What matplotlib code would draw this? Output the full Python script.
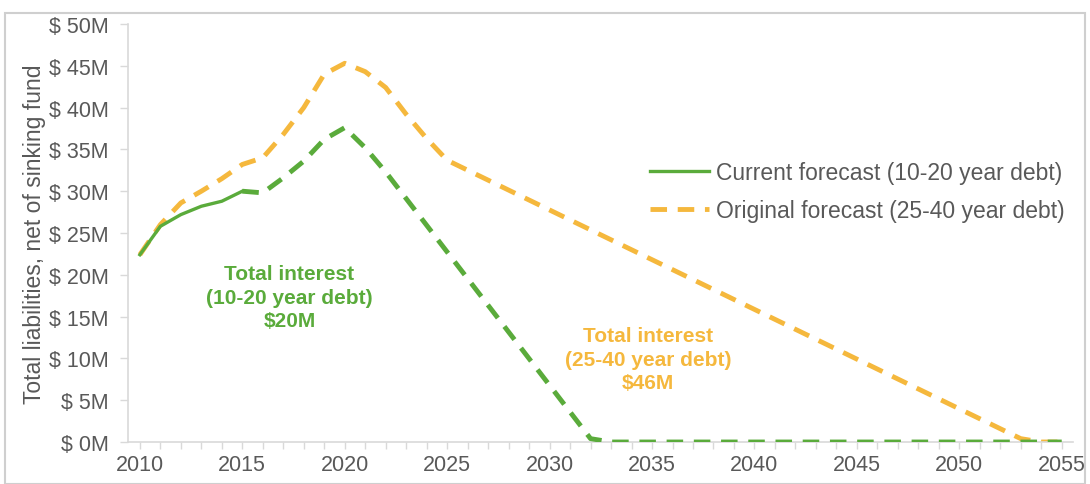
import matplotlib.pyplot as plt
from matplotlib.lines import Line2D
from matplotlib.patches import Rectangle

plt.rcParams['font.family'] = ['Liberation Sans', 'DejaVu Sans']

# data, $M
years_cur_hist = [2010, 2011, 2012, 2013, 2014, 2015]
cur_hist = [22.4, 25.8, 27.2, 28.2, 28.8, 30.0]
years_cur_fc = [2015, 2016, 2017, 2018, 2019, 2020, 2021, 2022, 2032, 2033, 2055]
cur_fc = [30.0, 29.8, 31.6, 33.6, 36.2, 37.6, 35.2, 32.3, 0.4, 0.0, 0.0]
years_orig = [2010, 2011, 2012, 2013, 2014, 2015, 2016, 2017, 2018, 2019, 2020,
              2021, 2022, 2023, 2024, 2025, 2053, 2054, 2055]
orig = [22.4, 26.0, 28.6, 30.0, 31.5, 33.2, 34.0, 36.8, 40.0, 44.0, 45.3,
        44.3, 42.4, 39.2, 36.3, 33.7, 0.4, 0.0, 0.0]

green = '#5aab3b'
orange = '#f5b83d'
grey_txt = '#595959'
grey_ax = '#d9d9d9'

fig = plt.figure(figsize=(10.9, 4.85), dpi=100)
ax = fig.add_axes([128/1090, 42/485, 945/1090, 418/485])

dash = (3.4, 2.2)
ax.plot(years_orig, orig, color=orange, lw=3.5, dashes=dash, zorder=2)
ax.plot(years_cur_fc, cur_fc, color=green, lw=3.5, dashes=dash, zorder=3)
ax.plot(years_cur_hist, cur_hist, color=green, lw=2.4, zorder=3)

ax.set_xlim(2009.42, 2055.55)
ax.set_ylim(0, 50)
ax.set_xticks(range(2010, 2056, 5))
ax.set_xticks(range(2010, 2056), minor=True)
ax.set_yticks(range(0, 51, 5))
ax.set_yticklabels(['$ %dM' % v for v in range(0, 51, 5)])

for s in ['top', 'right']:
    ax.spines[s].set_visible(False)
for s in ['left', 'bottom']:
    ax.spines[s].set_color(grey_ax)
    ax.spines[s].set_linewidth(1.2)
ax.tick_params(axis='both', which='both', color=grey_ax, labelcolor=grey_txt,
               labelsize=15.5, length=5, width=1)
ax.tick_params(axis='y', length=6, pad=8)
ax.tick_params(axis='x', pad=4)

ax.set_ylabel('Total liabilities, net of sinking fund', color=grey_txt, fontsize=16.5, labelpad=2)

handles = [Line2D([], [], color=green, lw=2.4),
           Line2D([], [], color=orange, lw=3.5, dashes=(3.4, 2.2))]
ax.legend(handles, ['Current forecast (10-20 year debt)', 'Original forecast (25-40 year debt)'],
          loc='center left', bbox_to_anchor=(0.552, 0.599), frameon=False,
          borderpad=0, borderaxespad=0,
          fontsize=16.5, labelcolor=grey_txt, handlelength=2.6, handletextpad=0.3,
          labelspacing=0.65)

ax.text(2017.3, 17.3, 'Total interest\n(10-20 year debt)\n$20M', color=green,
        fontsize=15, fontweight='bold', ha='center', va='center', linespacing=1.3)
ax.text(2034.8, 9.9, 'Total interest\n(25-40 year debt)\n$46M', color=orange,
        fontsize=15, fontweight='bold', ha='center', va='center', linespacing=1.3)

fig.patches.append(Rectangle((5/1090, 0), 1080/1090, 471/485, transform=fig.transFigure,
                             fill=False, edgecolor='#cfcfcf', lw=1.5))

fig.savefig('out.png', dpi=100)
